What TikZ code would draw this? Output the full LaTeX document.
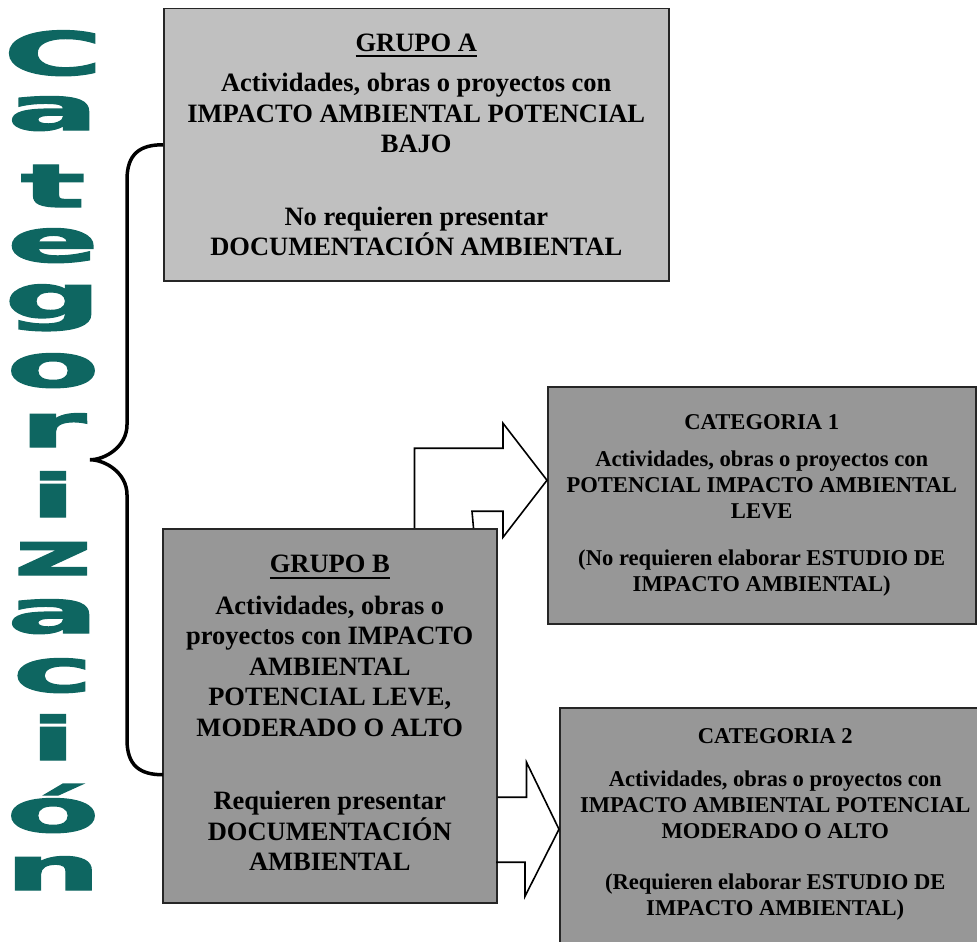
\documentclass[tikz,border=0pt]{standalone}
\usepackage{fontspec}
\usepackage{graphicx}
\setmainfont{Liberation Serif}
\newfontfamily\letrafont{DejaVu Sans Bold}[FakeBold=2]
\usepackage{tikz}
\usetikzlibrary{calc}

\definecolor{grisclaro}{RGB}{192,192,192}
\definecolor{grisoscuro}{RGB}{151,151,151}
\definecolor{verdeletra}{RGB}{14,102,97}

\newcommand{\subraya}[1]{\setbox0\hbox{#1}\rlap{\vrule height -4pt depth 6pt width \wd0}\box0}
\newcommand{\hondo}[1]{\rule[-#1]{0pt}{1pt}}

\tikzset{
  caja/.style={draw=black!85, line width=1.5pt, anchor=north west, align=center,
    inner sep=0pt, font=\bfseries\fontsize{26.5}{30.5}\selectfont},
  cajacat/.style={caja, fill=grisoscuro, font=\bfseries\fontsize{22.6}{26}\selectfont},
  flecha/.style={draw=black, line width=1.6pt, line join=miter},
  llave/.style={draw=black, line width=3.5pt},
  letra/.style={text=verdeletra, anchor=base, inner sep=0pt,
    font=\letrafont\fontsize{60}{60}\selectfont}
}

\begin{document}
\begin{tikzpicture}[x=1pt,y=-1pt]
    \useasboundingbox (0,0) rectangle (977,942);

    \foreach \c/\y [count=\n] in {C/75,a/130,t/207,e/262,g/318,o/387,r/447,i/517,z/575,a/633,c/692,i/760,ó/832,n/890}
        \node[letra] (letra\n) at (53,\y) {\scalebox{2.25}[1]{\c}};

    \node[caja, fill=grisclaro, minimum width=505pt, minimum height=272pt] (grupoA) at (163,8)
        {\subraya{GRUPO A}\\[10pt]
         Actividades, obras o proyectos con\\
         IMPACTO AMBIENTAL POTENCIAL\\
         BAJO\\[42pt]
         No requieren presentar\\
         DOCUMENTACIÓN AMBIENTAL};
    \node[caja, fill=grisoscuro, minimum width=334pt, minimum height=374pt] (grupoB) at (162,528)
        {\subraya{GRUPO B}\\[11pt]
         Actividades, obras o\\
         proyectos con IMPACTO\\
         AMBIENTAL\\
         POTENCIAL LEVE,\\
         MODERADO O ALTO\\[43pt]
         Requieren presentar\\
         DOCUMENTACIÓN\\
         AMBIENTAL\hondo{6pt}};
    \node[cajacat, minimum width=428pt, minimum height=237pt] (catuno) at (547,386)
        {CATEGORIA 1\\[10.5pt]
         Actividades, obras o proyectos con\\
         POTENCIAL IMPACTO AMBIENTAL\\
         LEVE\\[21pt]
         (No requieren elaborar ESTUDIO DE\\
         IMPACTO AMBIENTAL)};
    \node[cajacat, minimum width=431pt, minimum height=243pt] (catdos) at (559,707)
        {CATEGORIA 2\\[17pt]
         Actividades, obras o proyectos con\\
         IMPACTO AMBIENTAL POTENCIAL\\
         MODERADO O ALTO\\[25pt]
         (Requieren elaborar ESTUDIO DE\\
         IMPACTO AMBIENTAL)\hondo{14pt}};

    % llave
    \draw[llave] (grupoA.west) .. controls +(-23,0) and +(0,-26) .. ++(-36,35)
        -- ++(0,245) .. controls +(0,22) and +(15,0) .. ++(-37,35)
        .. controls +(15,0) and +(0,-22) .. ++(37,35)
        -- ++(0,245) .. controls +(0,26) and +(-23,0) .. ++(36,35);

    % flechas
    \coordinate (puntauno) at ([yshift=25pt]catuno.west);
    \draw[flecha] ([xshift=-83pt]grupoB.north east) |- ($(puntauno)+(-44,-32)$)
        -- ++(0,-25) -- (puntauno) -- ($(puntauno)+(-44,57)$)
        -- ++(0,-26) -- ++(-31,0) -- ([xshift=-24pt]grupoB.north east);
    \draw[flecha] ($(grupoB.east |- catdos.west)+(0,-32)$) -- ++(29,0) -- ++(0,-35)
        -- (catdos.west) -- ++(-34,67) -- ++(0,-34) -- ++(-29,0);
\end{tikzpicture}
\end{document}
